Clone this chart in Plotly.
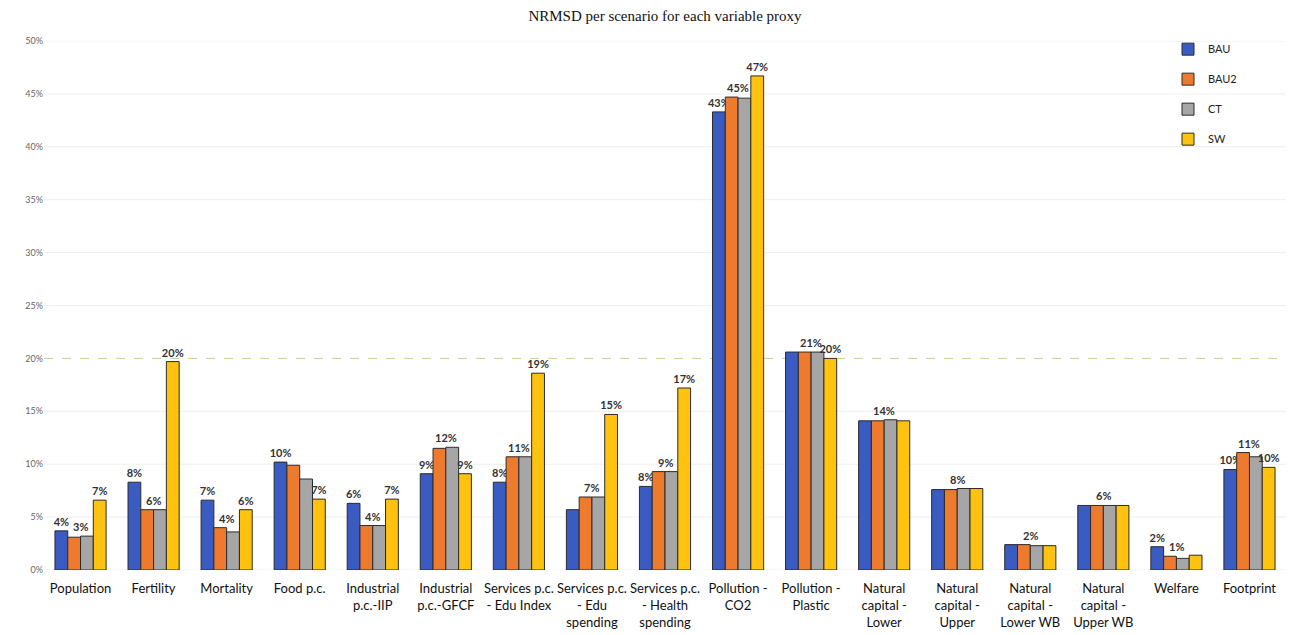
import plotly.graph_objects as go

categories = ["Population", "Fertility", "Mortality", "Food p.c.", "Industrial<br>p.c.-IIP",
              "Industrial<br>p.c.-GFCF", "Services p.c.<br>- Edu Index", "Services p.c.<br>- Edu<br>spending",
              "Services p.c.<br>- Health<br>spending", "Pollution -<br>CO2", "Pollution -<br>Plastic",
              "Natural<br>capital -<br>Lower", "Natural<br>capital -<br>Upper", "Natural<br>capital -<br>Lower WB",
              "Natural<br>capital -<br>Upper WB", "Welfare", "Footprint"]

bau  = [0.037, 0.083, 0.066, 0.102, 0.063, 0.091, 0.083, 0.057, 0.079, 0.433, 0.206, 0.141, 0.076, 0.024, 0.061, 0.022, 0.095]
bau2 = [0.031, 0.057, 0.040, 0.099, 0.042, 0.115, 0.107, 0.069, 0.093, 0.447, 0.206, 0.141, 0.076, 0.024, 0.061, 0.013, 0.111]
ct   = [0.032, 0.057, 0.036, 0.086, 0.042, 0.116, 0.107, 0.069, 0.093, 0.446, 0.206, 0.142, 0.077, 0.023, 0.061, 0.011, 0.107]
sw   = [0.066, 0.197, 0.057, 0.067, 0.067, 0.091, 0.186, 0.147, 0.172, 0.467, 0.200, 0.141, 0.077, 0.023, 0.061, 0.014, 0.097]

bau_labels = ["4%", "8%", "7%", "10%", "6%", "9%", "8%", "", "8%", "43%", "", "", "", "", "", "2%", "10%"]
mid_labels = ["3%", "6%", "4%", "", "4%", "12%", "11%", "7%", "9%", "45%", "21%", "14%", "8%", "2%", "6%", "1%", "11%"]
sw_labels  = ["7%", "20%", "6%", "7%", "7%", "9%", "19%", "15%", "17%", "47%", "20%", "", "", "", "", "", "10%"]

threshold = 0.20
y_ticks = [0, 0.05, 0.10, 0.15, 0.20, 0.25, 0.30, 0.35, 0.40, 0.45, 0.50]

colors = {"BAU": "#3a5bc2", "BAU2": "#ee7a2e", "CT": "#a6a6a6", "SW": "#ffc20e"}
label_font = dict(family="Lato", size=11, color="#333333", weight="bold")

fig = go.Figure()
series = [("BAU", bau, bau_labels), ("BAU2", bau2, None), ("CT", ct, None), ("SW", sw, sw_labels)]
for name, vals, labels in series:
    fig.add_trace(go.Bar(
        name=name, x=categories, y=vals,
        marker=dict(color=colors[name], line=dict(color="#2b2b2b", width=1)),
        text=labels, textposition="outside" if labels else "none",
        textfont=label_font, constraintext="none", cliponaxis=False,
        legendgroup=name,
    ))

for i, lab in enumerate(mid_labels):
    if lab:
        fig.add_annotation(x=categories[i], y=max(bau2[i], ct[i]), text=lab, showarrow=False,
                           yanchor="bottom", yshift=1, font=label_font)

# light gridlines (drawn as shapes so the 20% reference line can stay visible)
for t in y_ticks:
    if t != threshold:
        fig.add_hline(y=t, line=dict(color="#eeeeee", width=1), layer="below")
fig.add_hline(y=threshold, line=dict(color="#c9d28a", width=1, dash="dash"), layer="below")

fig.update_layout(
    width=1289, height=635,
    margin=dict(l=44, r=3, t=41, b=65),
    paper_bgcolor="white", plot_bgcolor="white",
    title=dict(text="NRMSD per scenario for each variable proxy", x=0.5, xref="paper", y=0.975,
               yanchor="middle", font=dict(family="Liberation Serif", size=15, color="#111111")),
    barmode="group", bargap=0.3, bargroupgap=0,
    legend=dict(x=0.905, y=1.012, xanchor="left", yanchor="top", bgcolor="rgba(0,0,0,0)",
                font=dict(family="Lato", size=11, color="#222222"), tracegroupgap=11, itemwidth=30),
    showlegend=True,
)
fig.update_xaxes(tickfont=dict(family="Lato", size=13, color="#111111"), showgrid=False,
                 showline=False, ticks="", ticklabelstandoff=9)
fig.update_yaxes(range=[0, 0.5], tickvals=y_ticks, tickformat=".0%",
                 tickfont=dict(family="Lato", size=9, color="#666666"),
                 showgrid=False, zeroline=False, showline=False)

fig.write_html("out.html")
